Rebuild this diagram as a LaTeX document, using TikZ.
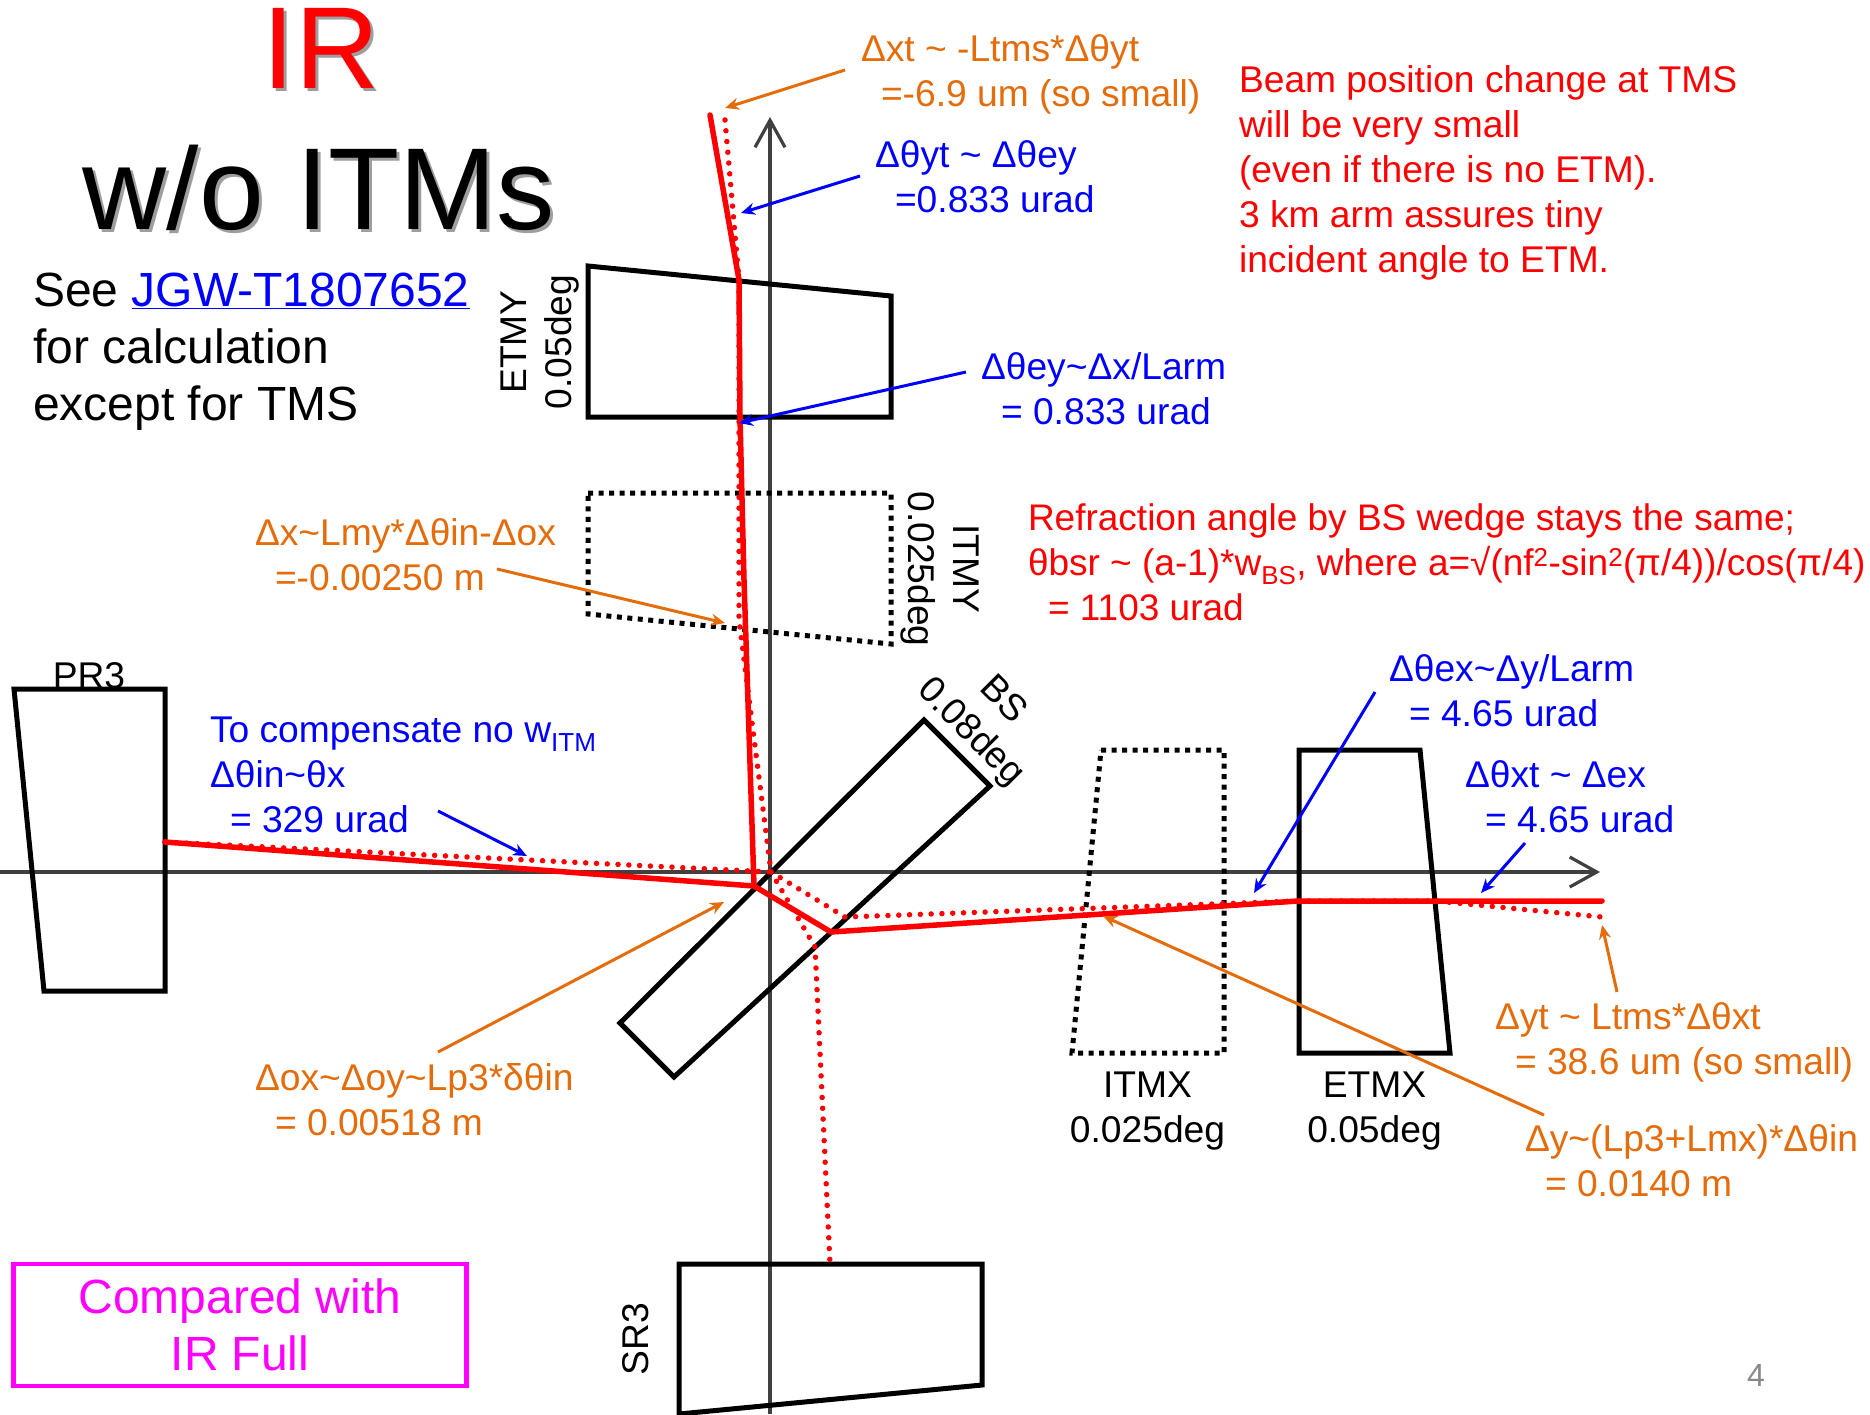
\documentclass[tikz,border=0pt]{standalone}
\usepackage{fontspec}
\setmainfont{Liberation Sans}
\usetikzlibrary{arrows.meta}
\definecolor{orng}{RGB}{228,108,10}
\definecolor{axisgray}{RGB}{64,64,64}
\definecolor{mag}{RGB}{255,0,255}
\definecolor{pagenum}{RGB}{137,137,137}
\tikzset{
  body/.style={inner sep=0pt,outer sep=0pt,align=left,anchor=north west,font=\fontsize{37.2}{45}\selectfont\strut},
  lbl/.style={inner sep=0pt,outer sep=0pt,align=center,font=\fontsize{37.2}{45.3}\selectfont},
  mirror/.style={draw=black,line width=5pt,line join=miter},
  dotmirror/.style={mirror,dash pattern=on 5pt off 5.5pt},
  axisline/.style={draw=axisgray,line width=3.2pt},
  axisarrow/.style={axisline,-{Straight Barb[length=27pt,width=30pt,line width=3.2pt]}},
  beam/.style={draw=red,line width=5.5pt,line cap=round,line join=round},
  dotbeam/.style={draw=red,line width=5.5pt,line cap=round,dash pattern=on 0pt off 10.8pt},
  note/.style={line width=3pt,-{Stealth[length=14pt,width=12pt]}},
  onote/.style={note,draw=orng,color=orng},
  bnote/.style={note,draw=blue,color=blue},
  title/.style={inner sep=0pt,outer sep=0pt,anchor=base,font=\fontsize{116.5}{130}\selectfont},
}
\begin{document}
\begin{tikzpicture}[x=1pt,y=-1pt]
\useasboundingbox (0,0) rectangle (1870,1414);
\fill[white] (0,0) rectangle (1870,1414);
% axes
\coordinate (axL) at (0,872); \coordinate (axR) at (1600,872);
\coordinate (axB) at (770,1414); \coordinate (axT) at (770,117);
\draw[axisarrow] (axL) -- (axR);
\draw[axisarrow] (axB) -- (axT);
% mirrors
\draw[mirror] (588,266) -- (891,296) -- (891,417) -- (588,417) -- cycle;
\draw[dotmirror] (588,493) -- (891,493) -- (891,644) -- (588,614) -- cycle;
\draw[mirror] (14,689) -- (165,689) -- (165,991) -- (44,991) -- cycle;
\draw[mirror] (924,720) -- (990,786) -- (674,1077) -- (620,1023) -- cycle;
\draw[dotmirror] (1101,750) -- (1224,750) -- (1224,1053) -- (1072,1053) -- cycle;
\draw[mirror] (1299,750) -- (1420,750) -- (1450,1053) -- (1299,1053) -- cycle;
\draw[mirror] (679,1264) -- (982,1264) -- (982,1385) -- (679,1414) -- cycle;
% beam points
\coordinate (pr) at (165,842);
\coordinate (bsA) at (754,886);
\coordinate (bsB) at (831,932);
\coordinate (etmxF) at (1298,901);
\coordinate (tmsX) at (1602,901);
\coordinate (etmyF) at (739,280);
\coordinate (etmyB) at (740,417);
\coordinate (itmyK) at (744,580);
\coordinate (itmyD) at (739,620);
\coordinate (tmsY) at (710,115);
\coordinate (tmsYd) at (725,120);
\coordinate (bsC) at (771,872);
\coordinate (bsD) at (845,917);
\coordinate (etmxB) at (1436,901);
\coordinate (tmsXd) at (1602,917);
\coordinate (srK) at (815,947);
\coordinate (srF) at (830,1264);
% dotted beams
\draw[dotbeam] (tmsYd) -- (etmyF) -- (itmyD) -- (bsC);
\draw[dotbeam] (pr) -- (bsC);
\draw[dotbeam] (bsC) -- (bsD) -- (etmxF) -- (etmxB) -- (tmsXd);
\draw[dotbeam] (bsC) -- (srK) -- (srF);
% solid beams
\draw[beam] (tmsY) -- (etmyF) -- (etmyB) -- (itmyK) -- (bsA);
\draw[beam] (pr) -- (bsA) -- (bsB) -- (etmxF) -- (tmsX);
% annotation arrow ends
\coordinate (a1s) at (845,70);    \coordinate (a1e) at (725,108);
\coordinate (a2s) at (860,176);   \coordinate (a2e) at (741,213);
\coordinate (a3s) at (966,372);   \coordinate (a3e) at (739,423);
\coordinate (a4s) at (497,569);   \coordinate (a4e) at (725,623);
\coordinate (a5s) at (438,811);   \coordinate (a5e) at (527,856);
\coordinate (a6s) at (438,1052);  \coordinate (a6e) at (724,902);
\coordinate (a7s) at (1375,692);  \coordinate (a7e) at (1254,893);
\coordinate (a8s) at (1525,843);  \coordinate (a8e) at (1481,893);
\coordinate (a9s) at (1617,992);  \coordinate (a9e) at (1602,925);
\coordinate (a10s) at (1544,1115);\coordinate (a10e) at (1103,916);
\draw[onote] (a1s) -- (a1e);
\draw[bnote] (a2s) -- (a2e);
\draw[bnote] (a3s) -- (a3e);
\draw[onote] (a4s) -- (a4e);
\draw[bnote] (a5s) -- (a5e);
\draw[onote] (a6s) -- (a6e);
\draw[bnote] (a7s) -- (a7e);
\draw[bnote] (a8s) -- (a8e);
\draw[onote] (a9s) -- (a9e);
\draw[onote] (a10s) -- (a10e);
% title with shadow
\node[title,text=black!38] (tIRs) at (324,91.5) {IR};
\node[title,text=red] (tIR) at (321,88) {IR};
\node[title,text=black!38] (tWs) at (322,232.5) {w/o ITMs};
\node[title,text=black] (tW) at (319,229) {w/o ITMs};
% see note
\node[inner sep=0pt,outer sep=0pt,align=left,anchor=north west,font=\fontsize{48}{57}\selectfont\strut] (see) at (33,273)
  {See \textcolor{blue}{\underline{JGW-T1807652}}\\for calculation\\except for TMS};
% annotations
\node[body,text=orng] (t1) at (861,35) {Δxt \char"7E\ -Ltms*Δθyt\\\hspace*{20pt}=-6.9 um (so small)};
\node[body,text=blue] (t2) at (875,141) {Δθyt \char"7E\ Δθey\\\hspace*{20pt}=0.833 urad};
\node[body,text=red] (t3) at (1239,66) {Beam position change at TMS\\will be very small\\(even if there is no ETM).\\3 km arm assures tiny\\incident angle to ETM.};
\node[body,text=blue] (t4) at (981,353) {Δθey\char"7EΔx/Larm\\\hspace*{20pt}= 0.833 urad};
\node[body,text=red,font=\fontsize{37}{45}\selectfont\strut] (t5) at (1028,503.5) {Refraction angle by BS wedge stays the same;\\θbsr \char"7E\ (a-1)*w\textsubscript{BS}, where a=√(nf\textsuperscript{2}-sin\textsuperscript{2}(π/4))/cos(π/4)\\\hspace*{20pt}= 1103 urad};
\node[body,text=orng] (t6) at (255,519) {Δx\char"7ELmy*Δθin-Δox\\\hspace*{20pt}=-0.00250 m};
\node[body,text=blue] (t7) at (210,717) {To compensate no w\textsubscript{ITM}\\Δθin\char"7Eθx\\\hspace*{20pt}= 329 urad};
\node[body,text=blue] (t8) at (1389,655) {Δθex\char"7EΔy/Larm\\\hspace*{20pt}= 4.65 urad};
\node[body,text=blue] (t9) at (1465,761) {Δθxt \char"7E\ Δex\\\hspace*{20pt}= 4.65 urad};
\node[body,text=orng] (t10) at (1495,1003) {Δyt \char"7E\ Ltms*Δθxt\\\hspace*{20pt}= 38.6 um (so small)};
\node[body,text=orng] (t11) at (255,1064) {Δox\char"7EΔoy\char"7ELp3*δθin\\\hspace*{20pt}= 0.00518 m};
\node[body,text=orng] (t12) at (1525,1125) {Δy\char"7E(Lp3+Lmx)*Δθin\\\hspace*{20pt}= 0.0140 m};
% mirror labels
\node[lbl,anchor=center] (itmx) at (1147.5,1111) {ITMX\\0.025deg};
\node[lbl,anchor=center] (etmx) at (1374.5,1111) {ETMX\\0.05deg};
\node[lbl,anchor=center] (pr3) at (89,676) {PR3};
\node[lbl,rotate=90] (etmy) at (540,342) {ETMY\\0.05deg};
\node[lbl,rotate=-90] (itmy) at (940,569) {ITMY\\0.025deg};
\node[lbl,rotate=-45] (bs) at (986,717) {BS\\0.08deg};
\node[lbl,rotate=90] (sr3) at (636,1339) {SR3};
% box
\node[draw=mag,line width=4.5pt,text=mag,minimum width=453pt,minimum height=122pt,inner sep=0pt,align=center,font=\fontsize{48}{57}\selectfont] (cmp) at (240,1325) {\raisebox{-4pt}{Compared with}\\\raisebox{-4pt}{IR Full}};
\node[inner sep=0pt,text=pagenum,font=\fontsize{32}{36}\selectfont] (pg) at (1756,1375) {4};
\end{tikzpicture}
\end{document}
